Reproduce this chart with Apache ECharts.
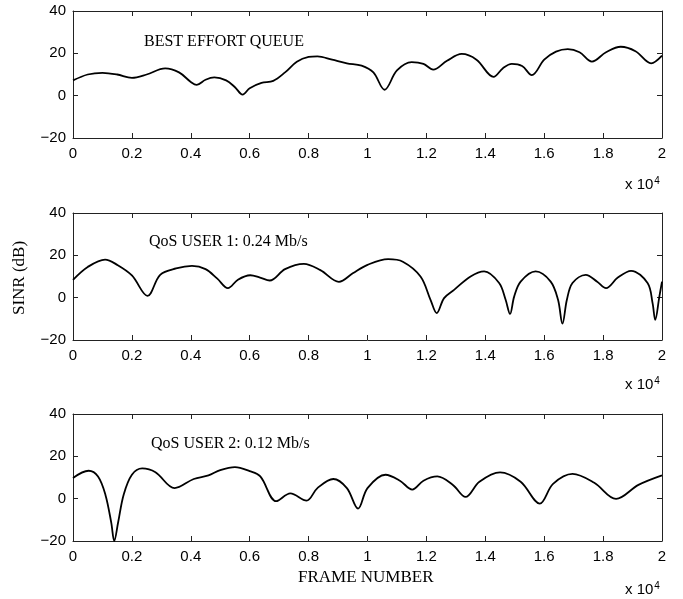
<!DOCTYPE html>
<html>
<head>
<meta charset="utf-8">
<script src="https://cdn.jsdelivr.net/npm/echarts@6/dist/echarts.min.js"></script>
<style>
html,body{margin:0;padding:0;background:#fff;}
#chart{width:683px;height:599px;}
</style>
</head>
<body>
<div id="chart"></div>
<script>
// x values in frames (axis labels shown in units of 10^4)
const bestEffortX = [0,500,1000,1500,2000,2500,3130,3600,4000,4200,4500,4800,5200,5500,5760,6000,6400,6800,7200,7600,8000,8300,8800,9300,9800,10200,10580,11000,11500,11900,12230,12700,13200,13700,14280,14600,14900,15250,15580,16000,16400,16800,17200,17620,18100,18600,19100,19630,20000];
const bestEffortY = [7.2,10,10.8,10,8.4,10,12.9,11,6.5,5.1,7.5,8.6,7.2,4,0.5,3.5,6,7,11,16,18.3,18.6,17,15.3,14.2,11,2.8,11.9,15.8,15,12.3,16.5,19.7,17,8.9,13,15,14,9.7,17,20.8,22,20.5,16.1,20.5,23.1,21,15.3,18.9];

const qos1X = [0,500,1090,1500,2000,2530,2960,3500,4040,4500,4900,5260,5600,6020,6350,6680,7200,7840,8400,9030,9500,10000,10700,11200,11800,12140,12350,12600,12940,13500,13960,14470,14690,14840,14980,15200,15710,16220,16470,16620,16770,16960,17410,17800,18100,18500,18950,19510,19680,19770,19910,20000];
const qos1Y = [8.4,14.5,18.0,15.5,10.5,0.85,10.8,13.8,15,13.5,9,4.5,8.5,10.6,9.5,8.1,13.5,16,13,7.5,11.5,15.5,18.2,17,10,-1,-7.3,-0.2,3.7,10,12.4,6.9,-1,-7.7,0.5,7.6,12.4,7.6,-1,-12.3,-1,6.9,10.8,7.5,4.5,9.5,12.7,6.9,-2.6,-10.5,0.5,7.6];

const qos2X = [0,530,850,1100,1300,1400,1530,1720,2000,2350,2800,3450,4100,4600,5000,5500,6000,6360,6900,7380,7930,8300,8840,9300,9680,10000,10610,11100,11520,11900,12370,12900,13330,13800,14500,15200,15850,16300,16960,17700,18440,19200,20000];
const qos2Y = [9.8,13.2,10.5,1.9,-11.4,-20,-11.4,1.9,11.3,14.3,12.5,5,9.3,11,13.5,14.9,13,10.5,-1.2,2.5,-0.9,5,9.3,5,-4.7,5,11.3,8.5,4.3,8.5,10.5,6.5,0.8,8,12.4,8,-2.3,7,11.7,7.5,-0.1,6.5,11];

const panelTitles = ["BEST EFFORT QUEUE", "QoS USER 1: 0.24 Mb/s", "QoS USER 2: 0.12 Mb/s"];
const xTickUnits = 10000;
const yTicks = {min:-20, max:40, interval:20};

const seriesX = [bestEffortX, qos1X, qos2X];
const seriesY = [bestEffortY, qos1Y, qos2Y];

const gridTops = [11, 213, 414];
const gridH = 127;
const L = 73, W = 589;
const axisColor = '#222';
const tickFont = {fontFamily:'Liberation Sans', fontSize:15, color:'#000'};

const grids = [], xAxes = [], yAxes = [], series = [], graphics = [];
for (let i = 0; i < 3; i++) {
  grids.push({left:L, top:gridTops[i], width:W, height:gridH});
  xAxes.push({type:'value', gridIndex:i, min:0, max:20000, interval:2000, position:'bottom',
    axisLine:{show:true, onZero:false, lineStyle:{color:axisColor, width:1}},
    axisTick:{show:true, inside:true, length:5, lineStyle:{color:axisColor}},
    axisLabel:Object.assign({margin:8, formatter:v=>String(Math.round(v/xTickUnits*10)/10), showMinLabel:true, showMaxLabel:true}, tickFont),
    splitLine:{show:false}});
  xAxes.push({type:'value', gridIndex:i, min:0, max:20000, interval:2000, position:'top',
    axisLine:{show:true, onZero:false, lineStyle:{color:axisColor, width:1}},
    axisTick:{show:true, inside:true, length:5, lineStyle:{color:axisColor}},
    axisLabel:{show:false}, splitLine:{show:false}});
  yAxes.push({type:'value', gridIndex:i, min:yTicks.min, max:yTicks.max, interval:yTicks.interval, position:'left',
    axisLine:{show:true, onZero:false, lineStyle:{color:axisColor, width:1}},
    axisTick:{show:true, inside:true, length:5, lineStyle:{color:axisColor}},
    axisLabel:Object.assign({margin:7, formatter:v=>String(v).replace('-', '\u2212')}, tickFont),
    splitLine:{show:false}});
  yAxes.push({type:'value', gridIndex:i, min:yTicks.min, max:yTicks.max, interval:yTicks.interval, position:'right',
    axisLine:{show:true, onZero:false, lineStyle:{color:axisColor, width:1}},
    axisTick:{show:true, inside:true, length:5, lineStyle:{color:axisColor}},
    axisLabel:{show:false}, splitLine:{show:false}});
  series.push({type:'line', xAxisIndex:2*i, yAxisIndex:2*i, showSymbol:false, smooth:0.35,
    clip:true, lineStyle:{color:'#000', width:1.8},
    data: seriesX[i].map((x,k)=>[x, seriesY[i][k]])});
}

const titleCenters = [[224, 43], [229, 243], [231, 445]];
for (let i = 0; i < 3; i++) {
  graphics.push({type:'text', left:titleCenters[i][0] - 80, top:titleCenters[i][1] - 9,
    style:{text:panelTitles[i], font:'16px "Liberation Serif"', fill:'#000'}});
}
const expY = [185, 385, 590];
for (let i = 0; i < 3; i++) {
  graphics.push({type:'text', left:625, top:expY[i]-9,
    style:{text:'x 10{s|4}', font:'15px "Liberation Sans"', fill:'#000',
      rich:{s:{fontSize:10, fontFamily:'Liberation Sans', verticalAlign:'top', padding:[0,0,8,1]}}}});
}

const chart = echarts.init(document.getElementById('chart'), null, {renderer:'canvas'});
chart.setOption({
  animation:false,
  backgroundColor:'#fff',
  grid:grids, xAxis:xAxes, yAxis:yAxes, series:series,
  graphic:graphics.concat([
    {type:'text', left:298, top:569, style:{text:'FRAME NUMBER', font:'17px "Liberation Serif"', fill:'#000'}},
    {type:'text', x:20, y:278, rotation:Math.PI/2, style:{text:'SINR (dB)', font:'17px "Liberation Serif"', fill:'#000', align:'center', verticalAlign:'middle'}}
  ])
});
</script>
</body>
</html>
